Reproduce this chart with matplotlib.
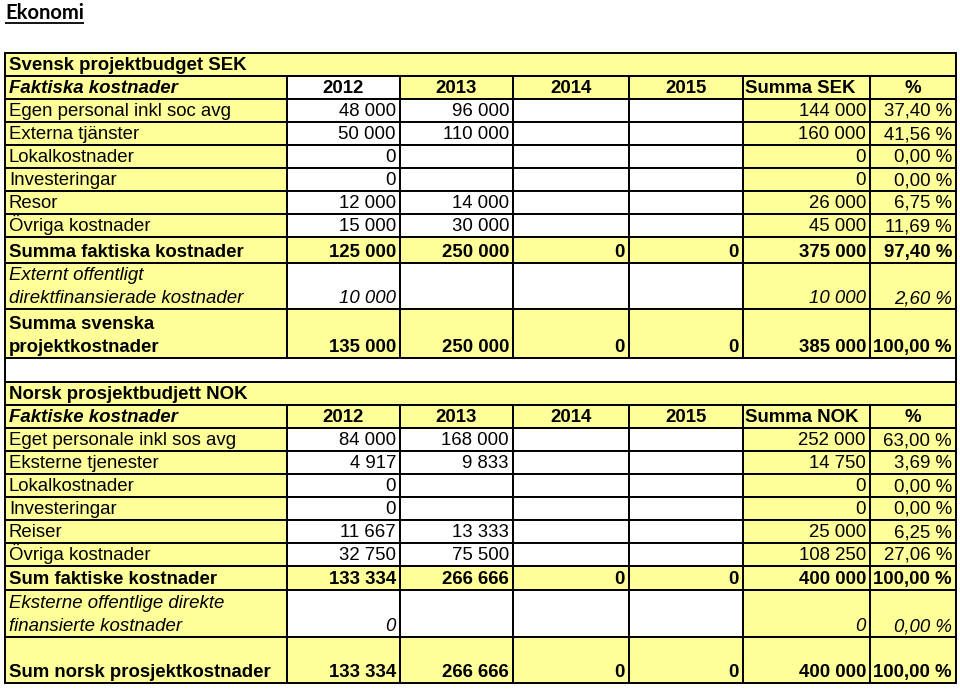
import matplotlib
matplotlib.use("Agg")
import matplotlib.pyplot as plt
from matplotlib.patches import Rectangle

# --- data: Swedish budget (SEK) ---
se_title = "Svensk projektbudget SEK"
se_head = "Faktiska kostnader"
se_items = ["Egen personal inkl soc avg", "Externa tjänster", "Lokalkostnader",
            "Investeringar", "Resor", "Övriga kostnader"]
se_2012 = [48000, 50000, 0, 0, 12000, 15000]
se_2013 = [96000, 110000, None, None, 14000, 30000]
se_sum = [144000, 160000, 0, 0, 26000, 45000]
se_pct = [37.40, 41.56, 0.00, 0.00, 6.75, 11.69]
se_actual = [125000, 250000, 0, 0, 375000]
se_actual_pct = 97.40
se_ext = [10000, None, None, None, 10000]
se_ext_pct = 2.60
se_total = [135000, 250000, 0, 0, 385000]
se_total_pct = 100.00

# --- data: Norwegian budget (NOK) ---
no_title = "Norsk prosjektbudjett NOK"
no_head = "Faktiske kostnader"
no_items = ["Eget personale inkl sos avg", "Eksterne tjenester", "Lokalkostnader",
            "Investeringar", "Reiser", "Övriga kostnader"]
no_2012 = [84000, 4917, 0, 0, 11667, 32750]
no_2013 = [168000, 9833, None, None, 13333, 75500]
no_sum = [252000, 14750, 0, 0, 25000, 108250]
no_pct = [63.00, 3.69, 0.00, 0.00, 6.25, 27.06]
no_actual = [133334, 266666, 0, 0, 400000]
no_actual_pct = 100.00
no_ext = [0, None, None, None, 0]
no_ext_pct = 0.00
no_total = [133334, 266666, 0, 0, 400000]
no_total_pct = 100.00

years = ["2012", "2013", "2014", "2015"]

YEL = "#FFFF99"
WHT = "white"
FONT = "Liberation Sans"
FS = 13.4


def num(v):
    if v is None:
        return ""
    return f"{v:,}".replace(",", " ")


def pct(p):
    return f"{p:.2f} %".replace(".", ",")


# rows: (kind, label lines, cell texts, fills, weight, style, height)
rows = []
def section(prefix, title, head, items, y12, y13, sums, pcts,
            act, act_pct, ext_lines, ext, ext_pct, tot_lines, tot, tot_pct,
            head_fill12, act_h, ext_h, tot_h):
    rows.append(("merged", [title], None, YEL, "bold", "normal", 23))
    rows.append(("header", [head], years + [f"Summa {prefix}", "%"],
                 [YEL, head_fill12, YEL, YEL, YEL, YEL, YEL], "bold", "italic", 23))
    for i, lab in enumerate(items):
        vals = [num(y12[i]), num(y13[i]), "", "", num(sums[i]), pct(pcts[i])]
        rows.append(("row", [lab], vals, [YEL, WHT, WHT, WHT, WHT, YEL, YEL],
                     "normal", "normal", 23))
    rows.append(("row", [f"{'Summa faktiska' if prefix == 'SEK' else 'Sum faktiske'} kostnader"],
                 [num(v) for v in act] + [pct(act_pct)], [YEL] * 7, "bold", "normal", act_h))
    rows.append(("row", ext_lines, [num(v) for v in ext] + [pct(ext_pct)],
                 [YEL, WHT, WHT, WHT, WHT, YEL, YEL], "normal", "italic", ext_h))
    rows.append(("row", tot_lines, [num(v) for v in tot] + [pct(tot_pct)],
                 [YEL] * 7, "bold", "normal", tot_h))


section("SEK", se_title, se_head, se_items, se_2012, se_2013, se_sum, se_pct,
        se_actual, se_actual_pct, ["Externt offentligt", "direktfinansierade kostnader"],
        se_ext, se_ext_pct, ["Summa svenska", "projektkostnader"], se_total, se_total_pct,
        WHT, 26, 46, 49)
rows.append(("merged", [""], None, WHT, "normal", "normal", 24))
section("NOK", no_title, no_head, no_items, no_2012, no_2013, no_sum, no_pct,
        no_actual, no_actual_pct, ["Eksterne offentlige direkte", "finansierte kostnader"],
        no_ext, no_ext_pct, ["Sum norsk prosjektkostnader"], no_total, no_total_pct,
        YEL, 24, 47, 46)

col_edges = [5, 287, 400, 513, 629, 743, 870, 956]

fig = plt.figure(figsize=(9.6, 6.89), dpi=100)
ax = fig.add_axes([0, 0, 1, 1])
ax.set_xlim(0, 960)
ax.set_ylim(689, 0)
ax.axis("off")

# title
t = ax.text(5, 19, "Ekonomi", fontsize=14.5, fontweight="bold", family="Lato",
            ha="left", va="baseline")
ax.plot([5, 84], [22.5, 22.5], color="black", lw=1.3, solid_capstyle="butt")

LW = 1.4
top = 53
for kind, labels, vals, fills, weight, style, h in rows:
    bot = top + h
    if kind == "merged":
        ax.add_patch(Rectangle((col_edges[0], top), col_edges[-1] - col_edges[0], h,
                               facecolor=fills, edgecolor="black", lw=LW))
        ax.text(col_edges[0] + 4, bot - 6, labels[0], family=FONT, fontsize=FS,
                fontweight=weight, ha="left", va="baseline")
    else:
        for c in range(7):
            ax.add_patch(Rectangle((col_edges[c], top), col_edges[c + 1] - col_edges[c], h,
                                   facecolor=fills[c], edgecolor="black", lw=LW))
        for k, lab in enumerate(labels):
            yb = bot - 6 - 23 * (len(labels) - 1 - k)
            ax.text(col_edges[0] + 4, yb, lab, family=FONT, fontsize=FS,
                    fontweight=weight, fontstyle=style, ha="left", va="baseline")
        for c, v in enumerate(vals):
            x0, x1 = col_edges[c + 1], col_edges[c + 2]
            if kind == "header":
                if c < 4 or c == 5:
                    ax.text((x0 + x1) / 2, bot - 6, v, family=FONT, fontsize=FS,
                            fontweight="bold", ha="center", va="baseline")
                else:
                    ax.text(x0 + 2, bot - 6, v, family=FONT, fontsize=FS,
                            fontweight="bold", ha="left", va="baseline")
            else:
                ax.text(x1 - 4, bot - 6, v, family=FONT, fontsize=FS,
                        fontweight=weight, fontstyle=style, ha="right", va="baseline")
    top = bot

fig.savefig("out.png", dpi=100)
